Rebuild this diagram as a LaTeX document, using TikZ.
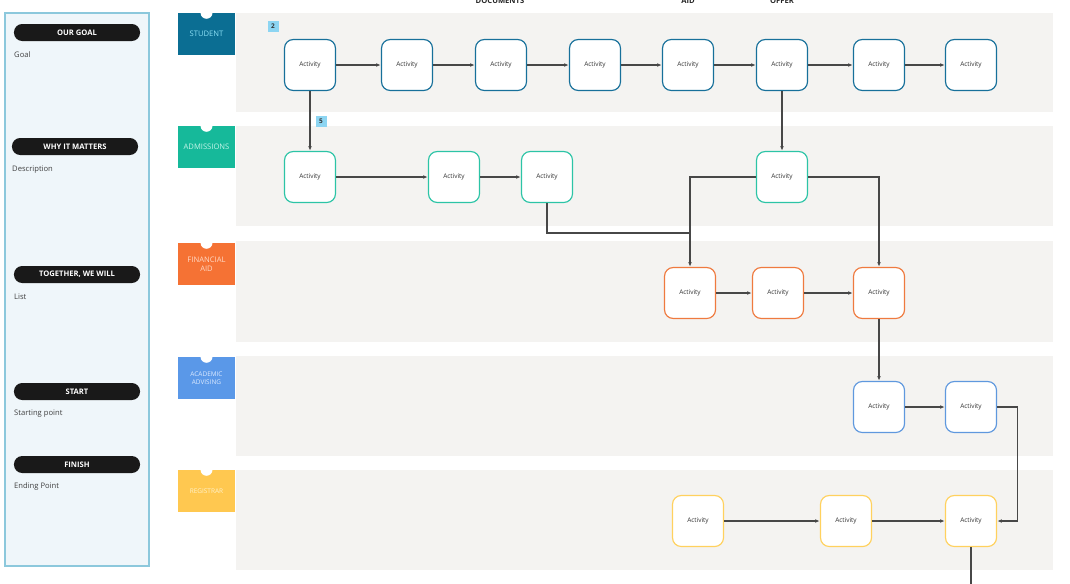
\documentclass[tikz,border=0pt]{standalone}
\usepackage{fontspec}
\setmainfont{Open Sans}
\usepackage{xcolor}
\usetikzlibrary{positioning, arrows.meta}

\definecolor{stuFill}{HTML}{0B6E93}
\definecolor{stuText}{HTML}{8CE0F5}
\definecolor{stuLine}{HTML}{17709A}
\definecolor{admFill}{HTML}{16B99A}
\definecolor{admText}{HTML}{C4F4E8}
\definecolor{admLine}{HTML}{2CC4A6}
\definecolor{finFill}{HTML}{F57234}
\definecolor{finText}{HTML}{FFD9C5}
\definecolor{finLine}{HTML}{EF7A3F}
\definecolor{advFill}{HTML}{5A98E8}
\definecolor{advText}{HTML}{DCEAFF}
\definecolor{advLine}{HTML}{5F98DE}
\definecolor{regFill}{HTML}{FFC850}
\definecolor{regText}{HTML}{FFF3CC}
\definecolor{regLine}{HTML}{FFD15E}
\definecolor{laneBg}{HTML}{F4F3F1}
\definecolor{panelFill}{HTML}{EFF6FA}
\definecolor{panelLine}{HTML}{8CC8DC}
\definecolor{badgeBlue}{HTML}{8DD5F2}

\begin{document}
\begin{tikzpicture}[x=0.03cm, y=-0.03cm,
  act/.style={draw=#1, fill=white, line width=1pt, rounded corners=7.5pt,
    minimum size=1.53cm, inner sep=0pt, text=black!80, font=\fontsize{5.5}{6}\selectfont},
  flow/.style={-{Latex[length=4pt,width=3pt]}, draw=black!72, line width=0.9pt},
  link/.style={draw=black!72, line width=0.9pt},
  pill/.style={fill=black!90, rounded corners=7pt, text=white, minimum width=3.78cm,
    minimum height=0.51cm, inner sep=0pt, font=\bfseries\fontsize{6.5}{7}\selectfont},
  note/.style={anchor=west, inner sep=0pt, text=black!75, font=\fontsize{6.5}{7}\selectfont},
  lane/.style={fill=#1Fill, text=#1Text, minimum width=1.71cm, minimum height=1.26cm,
    inner sep=0pt, align=center},
  badge/.style={fill=badgeBlue, minimum size=0.33cm, inner sep=0pt, text=black!80,
    font=\bfseries\fontsize{5.5}{6}\selectfont},
  colhead/.style={anchor=base, inner sep=0pt, text=black!85, font=\bfseries\fontsize{6.5}{7}\selectfont}
]
\useasboundingbox (0,0) rectangle (1070,583);

% left panel
\draw[panelLine, fill=panelFill, line width=1pt] (5,13) rectangle (149,566);
\node[pill] (goal) at (77,32.5) {OUR GOAL};
\node[note] (goaltxt) at (14,55) {Goal};
\node[pill] (why) at (75,146.5) {WHY IT MATTERS};
\node[note] (whytxt) at (12,170) {Description};
\node[pill] (together) at (77,274.5) {TOGETHER, WE WILL};
\node[note] (togethertxt) at (14,297) {List};
\node[pill] (start) at (77,391.5) {START};
\node[note] (starttxt) at (14,414) {Starting point};
\node[pill] (finish) at (77,464.5) {FINISH};
\node[note] (finishtxt) at (14,487) {Ending Point};

% column headings, cut at the top
\node[colhead] (hdocs) at (500,3) {DOCUMENTS};
\node[colhead] (haid) at (688,3) {AID};
\node[colhead] (hoffer) at (782,3) {OFFER};

% swimlanes
\fill[laneBg] (236,13) rectangle (1053,112);
\fill[laneBg] (236,126) rectangle (1053,226);
\fill[laneBg] (236,241) rectangle (1053,342);
\fill[laneBg] (236,356) rectangle (1053,456);
\fill[laneBg] (236,470) rectangle (1053,570);

\node[lane=stu, font=\fontsize{6.5}{7}\selectfont] (hstu) at (206.5,34) {STUDENT};
\node[lane=adm, font=\fontsize{6.5}{7}\selectfont] (hadm) at (206.5,147) {ADMISSIONS};
\node[lane=fin, font=\fontsize{6.5}{8}\selectfont] (hfin) at (206.5,264) {FINANCIAL\\AID};
\node[lane=adv, font=\fontsize{5.5}{7}\selectfont] (hadv) at (206.5,378) {ACADEMIC\\ADVISING};
\node[lane=reg, font=\fontsize{5.5}{7}\selectfont] (hreg) at (206.5,491) {REGISTRAR};
\foreach \h in {hstu,hadm,hfin,hadv,hreg}
  \fill[white] (\h.north) circle (6);

% activities
\foreach \i/\x in {1/310,2/407,3/501,4/595,5/688,6/782,7/879,8/971}
  \node[act=stuLine] (s\i) at (\x,65) {Activity};
\foreach \i/\x in {1/310,2/454,3/547,4/782}
  \node[act=admLine] (a\i) at (\x,177) {Activity};
\foreach \i/\x in {1/690,2/778,3/879}
  \node[act=finLine] (f\i) at (\x,293) {Activity};
\foreach \i/\x in {1/879,2/971}
  \node[act=advLine] (v\i) at (\x,407) {Activity};
\foreach \i/\x in {1/698,2/846,3/971}
  \node[act=regLine] (r\i) at (\x,521) {Activity};

\node[badge] (b2) at (273,26) {2};
\node[badge] (b5) at (321,121) {5};

% connectors
\foreach \a/\b in {1/2,2/3,3/4,4/5,5/6,6/7,7/8}
  \draw[flow] (s\a) -- (s\b);
\draw[flow] (s1) -- (a1);
\draw[flow] (s6) -- (a4);
\draw[flow] (a1) -- (a2);
\draw[flow] (a2) -- (a3);
\coordinate (join) at (690,233);
\draw[link] (a3.south) |- (join);
\draw[flow] (a4.west) -| (f1.north);
\draw[flow] (a4.east) -| (f3.north);
\draw[flow] (f1) -- (f2);
\draw[flow] (f2) -- (f3);
\draw[flow] (f3) -- (v1);
\draw[flow] (v1) -- (v2);
\draw[flow] (v2.east) -- ++(20,0) |- (r3.east);
\draw[flow] (r1) -- (r2);
\draw[flow] (r2) -- (r3);
\coordinate (out) at (971,590);
\draw[link] (r3.south) -- (out);
\end{tikzpicture}
\end{document}
